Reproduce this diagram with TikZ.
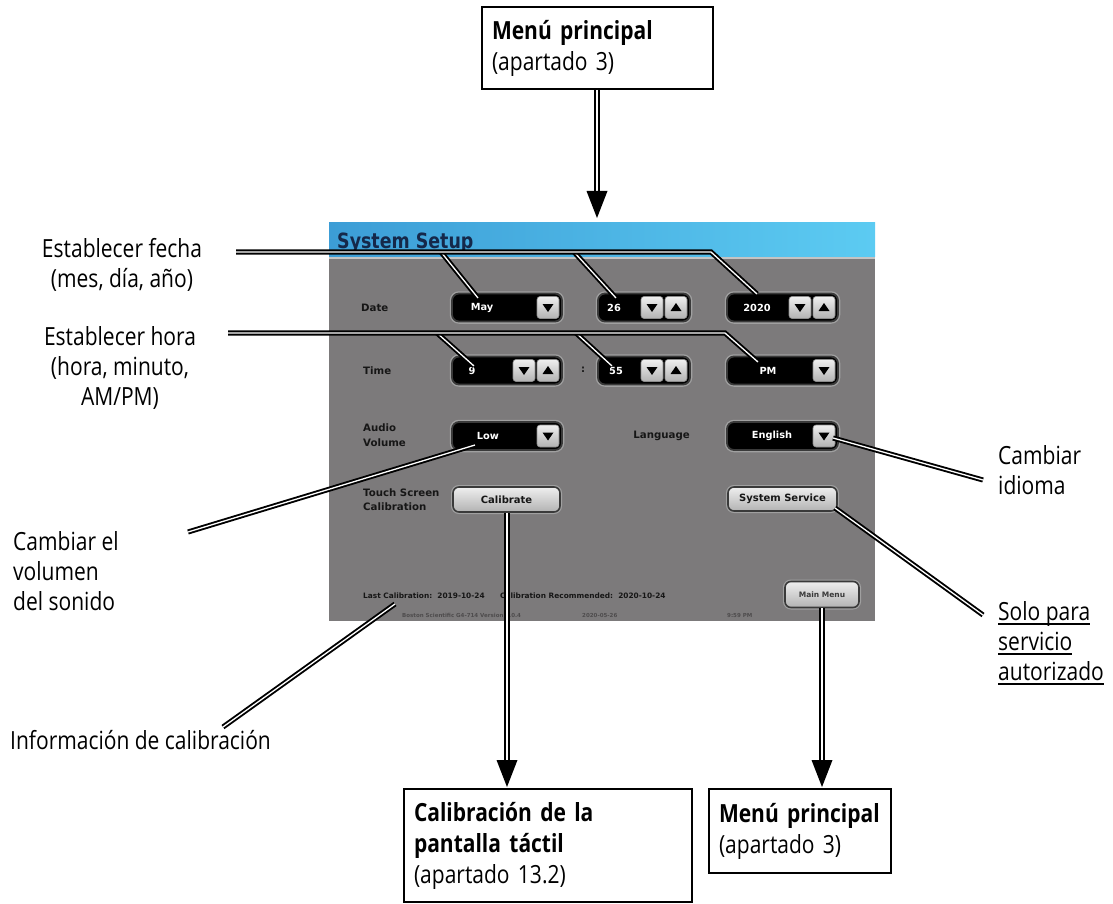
\documentclass[tikz,border=0pt]{standalone}
\usepackage{fontspec}
\newfontfamily\lblfont{Open Sans}[FakeStretch=0.84]
\newfontfamily\uifont{DejaVu Sans}
\newfontfamily\titlefont{DejaVu Sans}[FakeStretch=0.83]
\usetikzlibrary{calc}

\definecolor{scrgray}{HTML}{7C7A7B}
\definecolor{hdrL}{HTML}{3C9DD6}
\definecolor{hdrR}{HTML}{5CCBF2}
\definecolor{hdrline}{HTML}{C4C4C4}
\definecolor{titleblue}{HTML}{15284A}
\definecolor{rim}{HTML}{A0A0A0}
\definecolor{edge}{HTML}{3A3A3A}
\definecolor{btnhi}{HTML}{EFEFEF}
\definecolor{btnlo}{HTML}{B2B2B2}
\definecolor{btnedge}{HTML}{8C8C8C}
\definecolor{uitext}{HTML}{161616}
\definecolor{foot}{HTML}{4E4C4D}

% underlined text with a rule close to the baseline
\newcommand\undl[1]{\setbox0\hbox{#1}\rlap{\rule[-4.5pt]{\wd0}{1.5pt}}\box0}

\tikzset{
  lab/.style={font=\lblfont\fontsize{25}{30}\selectfont, inner sep=0pt},
  box/.style={draw=black, line width=2pt, fill=white, align=left,
    inner xsep=10pt, inner ysep=0pt, font=\lblfont\fontsize{25}{31}\selectfont},
  conn/.style={draw=black, line width=1.9pt, double=white, double distance=1.3pt},
  field/.style={rounded corners=7pt, fill=black, draw=edge, line width=1.8pt,
    preaction={draw=rim, line width=4.5pt}, minimum height=28pt, inner sep=0pt},
  btn/.style={rounded corners=3pt, top color=btnhi, bottom color=btnlo,
    draw=btnedge, line width=0.6pt, minimum width=22pt, minimum height=22pt, inner sep=0pt},
  bigbtn/.style={rounded corners=6pt, top color=btnhi, bottom color=btnlo,
    draw=edge, line width=1.6pt, preaction={draw=rim, line width=4pt},
    inner sep=0pt, text=uitext, font=\uifont\bfseries\fontsize{10}{12}\selectfont},
  val/.style={text=white, inner sep=0pt, font=\uifont\bfseries\fontsize{9.8}{11}\selectfont},
  uilbl/.style={text=uitext, anchor=west, align=left, inner sep=0pt,
    font=\uifont\bfseries\fontsize{10.2}{14.5}\selectfont},
  small/.style={text=uitext, anchor=west, inner sep=0pt,
    font=\uifont\bfseries\fontsize{7.4}{9}\selectfont},
  tiny/.style={text=foot, anchor=west, inner sep=0pt,
    font=\uifont\bfseries\fontsize{5.5}{7}\selectfont},
  dn/.pic={\fill (-5.5,-3.5) -- (5.5,-3.5) -- (0,4.5) -- cycle;},
  up/.pic={\fill (-5.5,3.5) -- (5.5,3.5) -- (0,-4.5) -- cycle;},
}

\begin{document}
\begin{tikzpicture}[x=1pt,y=-1pt]
\useasboundingbox (0,0) rectangle (1113,904);

% ---------- screen ----------
\fill[scrgray] (329,222) rectangle (875,621);
\shade[left color=hdrL, right color=hdrR] (329,222) rectangle (875,256);
\draw[hdrline, line width=2pt] (329,257.5) -- (875,257.5);
\node[anchor=base west, text=titleblue, inner sep=0pt,
  font=\titlefont\bfseries\fontsize{21}{24}\selectfont] (title) at (337,248) {System Setup};

% date row
\node[uilbl] (datel) at (361,308) {Date};
\node[field, minimum width=110pt] (mayf) at (507,307.5) {};
\node[val] (mayv) at (482,307.5) {May};
\node[btn] (mayb) at (548,307.5) {}; \pic at (mayb) {dn};
\node[field, minimum width=92pt] (dayf) at (644,307.5) {};
\node[val] (dayv) at (614,307.5) {26};
\node[btn] (dayd) at (652,307.5) {}; \pic at (dayd) {dn};
\node[btn] (dayu) at (676,307.5) {}; \pic at (dayu) {up};
\node[field, minimum width=111pt] (yearf) at (782.5,307.5) {};
\node[val] (yearv) at (757,307.5) {2020};
\node[btn] (yeard) at (800,307.5) {}; \pic at (yeard) {dn};
\node[btn] (yearu) at (824,307.5) {}; \pic at (yearu) {up};

% time row
\node[uilbl] (timel) at (363,371) {Time};
\node[field, minimum width=110pt] (hourf) at (507,370.5) {};
\node[val] (hourv) at (472,370.5) {9};
\node[btn] (hourd) at (524,370.5) {}; \pic at (hourd) {dn};
\node[btn] (houru) at (548,370.5) {}; \pic at (houru) {up};
\node[text=uitext, inner sep=0pt, font=\uifont\bfseries\fontsize{10}{12}\selectfont] (colon) at (583,370) {:};
\node[field, minimum width=92pt] (minf) at (644,370.5) {};
\node[val] (minv) at (616,370.5) {55};
\node[btn] (mind) at (652,370.5) {}; \pic at (mind) {dn};
\node[btn] (minu) at (676,370.5) {}; \pic at (minu) {up};
\node[field, minimum width=111pt] (ampmf) at (782.5,370.5) {};
\node[val] (ampmv) at (768,370.5) {PM};
\node[btn] (ampmb) at (824,370.5) {}; \pic at (ampmb) {dn};

% audio / language row
\node[uilbl] (audiol) at (363,435) {Audio\\Volume};
\node[field, minimum width=110pt] (volf) at (507,436) {};
\node[val] (volv) at (488,436) {Low};
\node[btn] (volb) at (548,436) {}; \pic at (volb) {dn};
\node[uilbl, anchor=east] (langl) at (690,436) {Language};
\node[field, minimum width=111pt] (langf) at (782.5,436) {};
\node[val] (langv) at (772,436) {English};
\node[btn] (langb) at (824,436) {}; \pic at (langb) {dn};

% calibration / service row
\node[uilbl] (touchl) at (363,499.5) {Touch Screen\\Calibration};
\node[bigbtn, minimum width=107pt, minimum height=25pt] (cal) at (506.5,499.5) {Calibrate};
\node[bigbtn, minimum width=109pt, minimum height=24pt] (serv) at (782.5,499) {System Service};

% status lines
\node[small] (lastcal) at (363,596) {Last Calibration:\ \ 2019-10-24};
\node[small] (reccal) at (500,596) {Calibration Recommended:\ \ 2020-10-24};
\node[bigbtn, minimum width=74pt, minimum height=26pt, text=edge,
  font=\uifont\bfseries\fontsize{7.5}{9}\selectfont] (mm) at (822,594.5) {Main Menu};
\node[tiny] (ver) at (402,615) {Boston Scientific G4-714 Version 3.0.4};
\node[tiny] (date2) at (582,615) {2020-05-26};
\node[tiny] (clock) at (727,615) {9:59 PM};

% ---------- callout texts ----------
\node[box, text width=211pt, minimum height=82pt] (mtop) at (597.5,48)
  {\textbf{Menú principal}\\(apartado 3)};
\node[box, text width=268pt, minimum height=113pt] (mcal) at (548,845.5)
  {\textbf{Calibración de la}\\\textbf{pantalla táctil}\\(apartado 13.2)};
\node[box, text width=162pt, minimum height=84pt] (mbot) at (800,831)
  {\mbox{\textbf{Menú principal}}\\(apartado 3)};

\node[lab, align=center] (fecha) at (122,265) {Establecer fecha\\(mes, día, año)};
\node[lab, align=center] (hora) at (120,368) {Establecer hora\\(hora, minuto,\\AM/PM)};
\node[lab, align=left, anchor=west] (vol) at (13,571) {Cambiar el\\volumen\\del sonido};
\node[lab, anchor=west] (info) at (10,740) {Información de calibración};
\node[lab, align=left, anchor=west] (idioma) at (998,470) {Cambiar\\idioma};
\node[lab, align=left, anchor=west] (solo) at (998,643)
  {\undl{Solo para}\\\undl{servicio}\\\undl{autorizado}};

% ---------- connectors ----------
% date
\coordinate (dS) at (236,252);
\coordinate (dA) at (441,252);
\coordinate (dB) at (574,252);
\coordinate (dC) at (711,252);
\coordinate (dMay) at (478,298);
\coordinate (dDay) at (616,298);
\coordinate (dYear) at (757,294);
\draw[conn] (dA) -- (dMay);
\draw[conn] (dB) -- (dDay);
\draw[conn] (dS) -- (dC) -- (dYear);

% time
\coordinate (tS) at (228,333);
\coordinate (tA) at (437,333);
\coordinate (tB) at (576,333);
\coordinate (tC) at (725,333);
\coordinate (tHour) at (474,366);
\coordinate (tMin) at (612,366);
\coordinate (tAmpm) at (758,362);
\draw[conn] (tA) -- (tHour);
\draw[conn] (tB) -- (tMin);
\draw[conn] (tS) -- (tC) -- (tAmpm);

% volume, calibration info, language, service
\coordinate (vS) at (188,532);
\coordinate (vE) at (475,445);
\draw[conn] (vS) -- (vE);
\coordinate (cS) at (223,727);
\coordinate (cE) at (395,604);
\draw[conn] (cS) -- (cE);
\coordinate (lE) at (833,438);
\coordinate (lS) at (983,480);
\draw[conn] (lE) -- (lS);
\coordinate (sE) at (835,508);
\coordinate (sS) at (983,615);
\draw[conn] (sE) -- (sS);

% arrows
\coordinate (tipTop) at (597,218);
\draw[conn] (mtop.south -| tipTop) -- ($(tipTop)+(0,-26)$);
\fill (tipTop) -- ++(-10.5,-27) -- ++(21,0) -- cycle;

\coordinate (tipCal) at (507,787);
\draw[conn] (cal.south -| tipCal) -- ($(tipCal)+(0,-26)$);
\fill (tipCal) -- ++(-10.5,-27) -- ++(21,0) -- cycle;

\coordinate (tipMm) at (822,787);
\draw[conn] (mm.south -| tipMm) -- ($(tipMm)+(0,-26)$);
\fill (tipMm) -- ++(-10.5,-27) -- ++(21,0) -- cycle;
\end{tikzpicture}
\end{document}
